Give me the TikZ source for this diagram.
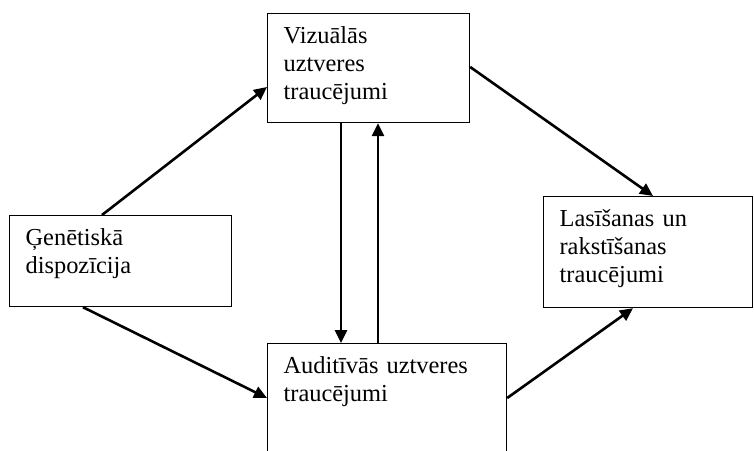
\documentclass[tikz,border=0pt]{standalone}
\usepackage{fontspec}
\setmainfont{Liberation Serif}
\usetikzlibrary{arrows.meta,calc}

\begin{document}
\begin{tikzpicture}[
  x=1pt, y=-1pt,
  font=\fontsize{24.4}{28}\selectfont,
  box/.style={draw, line width=1.2pt, anchor=north west, align=left,
              inner xsep=16pt, inner ysep=8pt, text height=22pt},
  arr/.style={-{Triangle[length=13pt,width=12pt]}, line width=2.6pt}
]
\useasboundingbox (0,0) rectangle (754,450);
% boxes
\node[box, text width=170pt, text depth=71pt] (viz) at (267,13) {Vizuālās\\uztveres\\traucējumi};
\node[box, text width=190pt, text depth=53pt] (gen) at (9,215) {Ģenētiskā\\dispozīcija};
\node[box, text width=177pt, text depth=73pt] (lrt) at (543,196) {Lasīšanas un\\rakstīšanas\\traucējumi};
\node[box, text width=207pt, text depth=94pt] (aud) at (267,343) {Auditīvās uztveres\\traucējumi};
% arrows
\draw[arr] ($(gen.north west)+(93,0)$) -- ($(viz.north west)+(0,74)$);
\draw[arr] ($(viz.north east)+(0,54)$) -- ($(lrt.north west)+(110,0)$);
\draw[arr] ($(gen.south west)+(74,0)$) -- ($(aud.north west)+(0,55)$);
\draw[arr] ($(aud.north east)+(0,55)$) -- ($(lrt.south west)+(90,0)$);
\draw[arr] ($(viz.south west)+(74,0)$) -- ($(aud.north west)+(74,0)$);
\draw[arr] ($(aud.north west)+(111,0)$) -- ($(viz.south west)+(111,0)$);
\end{tikzpicture}
\end{document}
